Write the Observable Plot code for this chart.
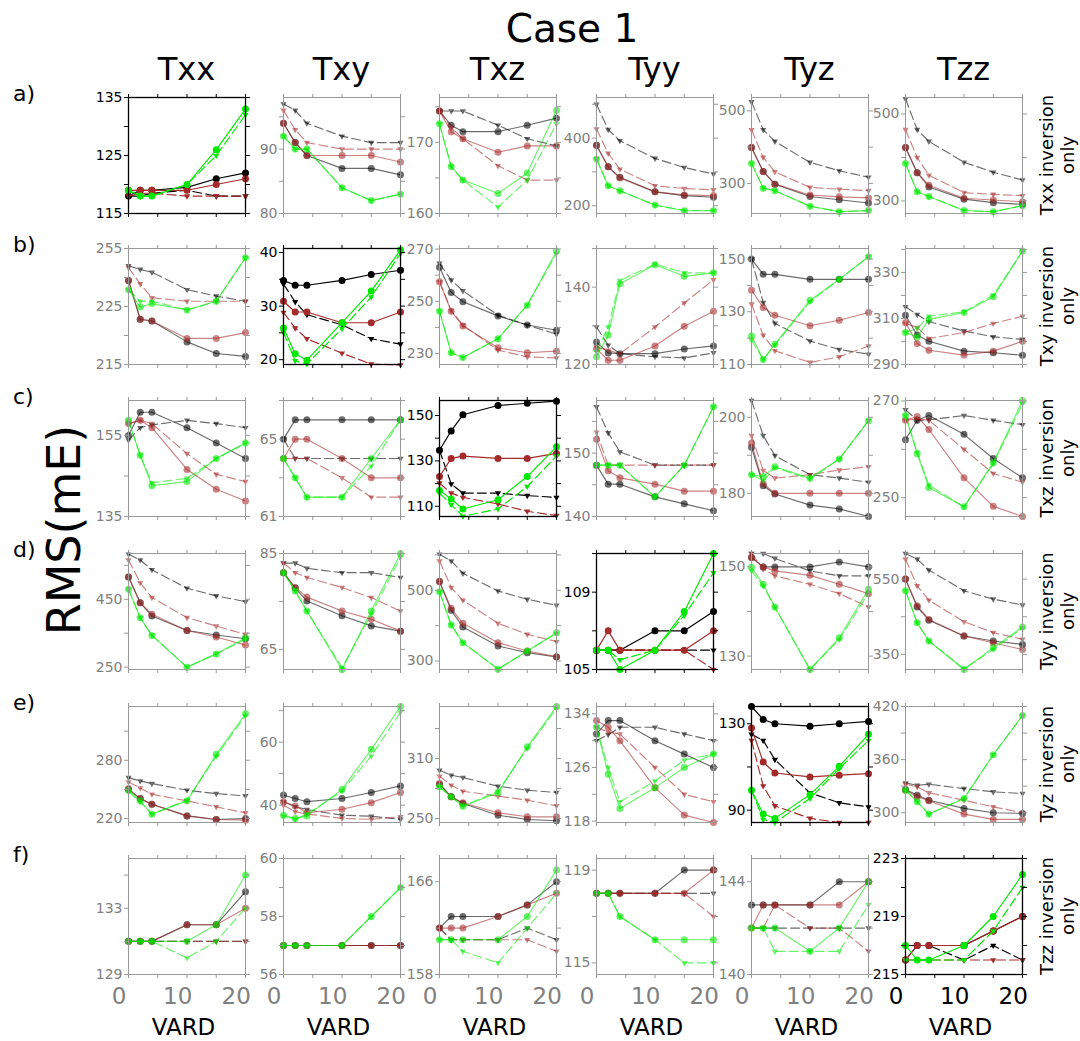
<!DOCTYPE html>
<html><head><meta charset="utf-8">
<script src="https://cdn.jsdelivr.net/npm/d3@7"></script>
<script src="https://cdn.jsdelivr.net/npm/@observablehq/plot@0.6"></script>
<style>
body{margin:0;background:#fff;font-family:"DejaVu Sans",sans-serif;}
#chart{position:relative;width:1080px;height:1041px;overflow:hidden;background:#fff;}
</style></head><body><div id="chart"></div>
<script>
// ---------------- data ----------------
const vard = [1, 3, 5, 11, 16, 21];
const columns = ["Txx", "Txy", "Txz", "Tyy", "Tyz", "Tzz"];
const rowKeys = ["a", "b", "c", "d", "e", "f"];
const rowLabels = ["a)", "b)", "c)", "d)", "e)", "f)"];
const rightLabels = ["Txx inversion", "Txy inversion", "Txz inversion", "Tyy inversion", "Tyz inversion", "Tzz inversion"];
const rightLabel2 = "only";
const titleText = "Case 1";
const yAxisTitle = "RMS(mE)";
const xAxisTitle = "VARD";
const xTickLabels = [0, 10, 20];
const xTickMarks = [1, 6, 11, 16, 21];
// series order in each panel: black solid, black dashed, red solid, red dashed, green solid, green dashed
const a_Txx = [[118,119,119,119.5,121,122],[118,118,118.5,119,118,118],[119,119,119,119,120,121],[118,118.5,118.5,118,118,118],[119,118,118,120,126,133],[119,118,118,120,125,132]];
const a_Txy = [[94,91,89,87,87,86],[97,96,94,92,91,91],[94,91,89,89,89,88],[96,93,91,90,90,90],[92,90,90,84,82,83],[92,90,90,84,82,83]];
const a_Txz = [[174.4,172.4,171.5,171.5,172.4,173.4],[174.4,174.4,174.4,172.4,170.5,169.5],[174.4,171.5,170.5,168.6,169.5,169.5],[174.4,172.1,170.5,166.7,164.7,164.7],[172.6,166.6,164.7,162.8,165.7,174.5],[172.6,166.6,164.7,160.9,164.7,172.6]];
const a_Tyy = [[379,315,284,241,230,225],[500,425,392,340,313,294],[379,315,282,241,232,230],[427,355,308,259,251,247],[338,259,244,202,185,185],[338,259,244,202,186,186]];
const a_Tyz = [[399,333,298,264,255,246],[525,448,416,358,335,317],[399,333,298,268,263,260],[448,372,332,289,284,280],[355,287,280,237,222,225],[355,287,280,237,222,225]];
const a_Tzz = [[423,365,332,304,296,292],[535,464,437,389,366,348],[423,365,336,306,302,298],[464,400,359,319,315,312],[386,321,310,278,275,289],[386,321,310,278,275,289]];

const b_Txx = [[229.5,222.8,222.5,218.9,216.9,216.4],[232,231.4,230.9,227.9,226.8,225.9],[229.5,222.8,222.5,219.5,219.5,220.5],[231.7,228.9,226.5,225.9,225.9,225.9],[227.9,224.9,225.5,224.4,225.9,233.4],[227.9,225.9,225.9,224.4,225.9,233.4]];
const b_Txy = [[34.8,33.9,33.9,34.8,35.9,36.7],[34.1,30.8,28.4,26.5,23.9,22.9],[30.9,28.9,28.9,26.9,26.9,28.9],[28.8,25.9,23.9,21.2,19.2,19],[25.9,21.1,19.9,26.9,32.8,40.5],[25.1,19.8,19.2,25.8,31.7,39.8]];
const b_Txz = [[263,253.4,249.8,244.4,240.9,238.9],[264.5,258.1,254,244.7,240.9,237.4],[257.5,246.2,240.5,232.2,230.3,230.9],[257.5,246.5,240.9,231.3,228.7,228.3],[246.2,230.3,228.5,235.7,248.5,269.2],[246.2,230.3,228.5,235.7,248.5,268.3]];
const b_Tyy = [[125.8,123,122.8,122.8,124,124.8],[129.7,125,122.8,122,121.7,123],[124.1,121.1,121.1,124.8,129.9,133.8],[124.5,123.7,122.8,129.7,135.9,141.9],[122,127.6,140.9,145.8,142.8,143.7],[123.3,129.7,141.7,146,143.7,143.7]];
const b_Tyz = [[150,144.2,144.2,142.3,142.3,142.3],[150,133.5,125.6,118.9,115.7,113.9],[138.2,131.6,128.7,124.7,126.8,129.7],[132.9,121.1,115.2,110.8,112.9,117],[120.8,111.9,117.7,134.4,142.3,150.9],[119.2,111.9,117.4,133.8,142.3,150.9]];
const b_Tzz = [[311.4,302.8,300.1,295.8,295.1,294],[315.1,311.7,308.6,304.6,302,300.9],[308.1,299.1,296.2,294.1,295.8,300.1],[307.8,306.1,301.3,303.9,307.8,311],[303.9,302,309.6,312.6,319.4,339.3],[303.9,305.7,311,312.9,320.1,339.3]];

const c_Txx = [[155,160.7,160.7,156.9,153.1,149.3],[153.8,156.9,157.6,158.7,157.9,156.9],[157.9,158.7,156.9,146.6,141.7,138.8],[157.9,158.7,157.9,150.5,145.4,143.6],[158.7,150.1,142.6,143.6,149.3,153.1],[158.7,150.1,143.3,144.4,149.3,153.1]];
const c_Txy = [[65,66,66,66,66,66],[65,64,64,64,64,64],[64,65,65,64,63,63],[64,64,64,63,62,62],[64,63,62,62,64,66],[64,63,62,62,63.6,66]];
const c_Txz = [[134.7,143.2,150.3,154.4,155.4,156.3],[134.7,119.8,115.8,115.8,114.7,113.9],[123.1,131.1,132.1,131.1,131.1,133.3],[120.2,115.8,113.9,111,107.8,105.9],[117,113.2,108.8,112.9,123.1,136.2],[115.8,110.7,105.6,108.8,118.7,132.1]];
const c_Tyy = [[148.1,145.1,145.1,143.1,142,140.9],[157.3,153.2,150.2,148.1,148.1,148.1],[152.2,147.2,146.1,145.1,144,144],[153.3,148.1,148.1,148.1,148.1,148.1],[148.1,148.1,148.1,143.1,148.1,157.3],[148.1,148.1,148.1,143.1,148.1,157.3]];
const c_Tyz = [[192.1,182,179.8,176.9,175.9,173.9],[204.4,195.2,189.9,184.9,184,182.9],[193.2,182.5,180,180,180,180],[195.2,186,184,184.9,186.1,187],[184.9,184.4,187,184,189,199.1],[184.9,183.3,186.8,183.7,189,199.1]];
const c_Tzz = [[262,266,267,263.1,258.1,254.1],[268.2,266,266.1,267,266,265.1],[266,266.8,264.1,254.1,248.2,246.1],[266,266.3,266,260,255,253.2],[267,259.1,252.1,248.1,257.2,270.1],[267,259.4,252.6,248.1,257,269.4]];

const d_Txx = [[516,440,400.7,358,344.6,333.7],[583,566,537,482.5,460,443],[516,440,405.7,358,338.7,315],[566,499,455,396,371,346.5],[479.6,395.8,343.6,250,289,336.7],[479.6,395.8,343.6,250,289,331.8]];
const d_Txy = [[81,77.8,75.1,72,69.9,68.8],[83,83,81.9,81,81,80],[81,77.9,75.9,73,71.3,68.8],[83,81,80,77.9,75.8,73],[81,77.2,73,60.8,73,85],[81,77.2,73,61.2,72.3,84.2]];
const d_Txz = [[524.5,443.4,396.2,342.5,323.6,311.3],[602,583,548,498,474.5,457.5],[524.5,449,406.6,351.9,328.3,312.3],[583,507.5,471.7,406.6,375.5,354.7],[496,401.9,351.9,277,328,380],[496,401.9,351.9,277,328,378]];
const d_Tyy = [[106,106,106,107,107,108],[106,106,106,106,106,106],[106,107,106,106,106,107],[106,106,106,106,106,105],[106,106,105,106,108,111],[106,106,105.5,106,107.8,110]];
const d_Tyz = [[152.1,150,150,150,151.1,150],[153,153,151.9,149.1,148,148],[152.1,150,149.1,148.1,146.1,144],[153,149.5,148,146.1,144,141],[149.9,146.1,141,127,134.1,145],[149.1,145.7,140.9,127,133.7,144.2]];
const d_Tzz = [[550,476,441,399,385.6,376.7],[618,603,574,519,497,481],[550,479,443,399,381,363],[603,532,494,437,408,390],[519,434,385.6,310,368,423],[519,434,385.6,312,363,420]];

const e_Txx = [[249.8,240.5,234.7,222.7,219,220],[262.1,258.7,256,249.1,245.7,243.3],[250.8,240.5,234.7,222.7,219,218.3],[257.7,251.5,245,238.2,232,225.8],[249.1,238.2,224.5,238.2,286.1,327.9],[247.4,237.2,224.5,238.9,284,326]];
const e_Txy = [[43.2,42.1,41.1,42.1,44,46.1],[41.1,39.5,38.6,36.8,36.5,35.5],[41.1,39.7,37.6,38.7,40.8,44],[40,37.9,37.2,35.8,35.5,36.3],[36.8,35.8,36.6,45,57.7,71.3],[36.5,35.5,37.2,44.4,55.6,69.5]];
const e_Txz = [[284.3,271.7,265,253.3,249,247.7],[298.3,293.3,291,282.3,278.3,276],[285,271.7,265.7,255.7,251.7,251.7],[292.3,283.3,277.3,272.3,268.3,262.7],[281.7,271.7,262.3,275.7,321.7,362],[281.7,271.7,262.3,277.3,320,360]];
const e_Tyy = [[131,133,133,130,128,126],[130,130.9,132,132,131,130],[133,132,130,123,118.9,117.8],[132,131.3,131,126,122,120.9],[132,125,119.9,123,126,128],[132,126,120.9,124,127.1,128]];
const e_Tyz = [[138,132,130,128.9,130,131.1],[125.1,122.3,113.4,98,93.4,91.5],[128,112.3,107.2,105.4,106.2,106.9],[122.3,101.2,92,86.2,84.3,84.3],[99.2,88.2,86.2,97.2,110.3,125.1],[99.2,85.7,84.3,95.4,109.2,122.3]];
const e_Tzz = [[326.2,319.9,314.2,304.9,300,299.3],[333.7,331,332.2,327.3,323.6,321.7],[325.5,318,313.5,298.5,292.5,292.5],[332.2,329.2,322.5,314.2,306.7,300],[325.5,312.4,298.5,316.1,365.5,409.7],[325.5,312.4,298.5,316.1,365.5,409.7]];

const f_Txx = [[131,131,131,132,132,134],[131,131,131,131,131,131],[131,131,131,132,132,133],[131,131,131,131,131,131],[131,131,131,131,132,135],[131,131,131,130,131,133]];
const f_Txy = [[57,57,57,57,57,57],[57,57,57,57,57,57],[57,57,57,57,57,57],[57,57,57,57,57,57],[57,57,57,57,58,59],[57,57,57,57,58,59]];
const f_Txz = [[162,163,163,163,164,166],[162,161,161,161,162,161],[162,162,162,163,164,165],[162,161,161,161,161,160],[161,161,161,161,163,167],[161,161,160,159,162,165]];
const f_Tyy = [[118,118,118,118,119,119],[118,118,118,118,118,118],[118,118,118,118,118,119],[118,118,118,118,118,117],[118,118,117,116,116,116],[118,118,117,116,115,115]];
const f_Tyz = [[143,143,143,143,144,144],[142,142,142,142,142,142],[142,143,143,143,143,144],[142,142,143,142,142,141],[142,142,142,141,142,144],[142,142,141,141,141,143]];
const f_Tzz = [[216,217,217,217,218,219],[217,217,217,216,217,216],[216,217,217,217,218,219],[216,216,216,216,216,216],[217,216,216,217,219,221.9],[216,216,216,216,218,221]];

// y domains, tick marks and labelled ticks per row (columns Txx..Tzz)
const yDomA = [[115,135],[80,98],[160,176.3],[177,520],[217,537],[271,538]];
const yDomB = [[215,235],[19.1,40.75],[225.8,270.2],[120,150],[110,154],[290,340.4]];
const yDomC = [[135,163.6],[61,67],[105.5,156.6],[140,158.3],[173.9,204.4],[246.1,270.1]];
const yDomD = [[243,585],[60.8,85],[276,604],[105,111],[127,153],[310,618]];
const yDomE = [[215.9,335.4],[34.5,71.3],[246,362],[117.8,135.1],[84.3,138],[289,420]];
const yDomF = [[129,136],[56,60],[158,168],[114.5,119.5],[140,145],[215,223]];

const yTicksA = [[115,120,125,130,135],[80,85,90,95],[160,165,170,175],[200,300,400,500],[300,400,500],[300,400,500]];
const yTicksB = [[215,220,225,230,235],[20,25,30,35,40],[230,240,250,260,270],[120,130,140,150],[110,120,130,140,150],[290,300,310,320,330,340]];
const yTicksC = [[135,145,155],[61,63,65,67],[110,120,130,140,150],[140,145,150,155],[180,190,200],[250,260,270]];
const yTicksD = [[250,350,450,550],[65,75,85],[300,400,500,600],[105,107,109,111],[130,140,150],[350,450,550]];
const yTicksE = [[220,250,280,310],[40,50,60,70],[250,280,310,340],[118,122,126,130,134],[90,110,130],[300,330,360,390,420]];
const yTicksF = [[129,131,133,135],[56,57,58,59,60],[158,162,166],[115,117,119],[140,142,144],[215,217,219,221,223]];

const yLabA = [[115,125,135],[80,90],[160,170],[200,400],[300,500],[300,500]];
const yLabB = [[215,225,235],[20,30,40],[230,250,270],[120,140],[110,130,150],[290,310,330]];
const yLabC = [[135,155],[61,65],[110,130,150],[140,150],[180,200],[250,270]];
const yLabD = [[250,450],[65,85],[300,500],[105,109],[130,150],[350,550]];
const yLabE = [[220,280],[40,60],[250,310],[118,126,134],[90,130],[300,360,420]];
const yLabF = [[129,133],[56,58,60],[158,166],[115,119],[140,144],[215,219,223]];
// tick text as printed in the figure where it differs from the value
const b_Txx_topTickText = "255";

// ---------------- assembly ----------------
const panelData = {a_Txx,a_Txy,a_Txz,a_Tyy,a_Tyz,a_Tzz,b_Txx,b_Txy,b_Txz,b_Tyy,b_Tyz,b_Tzz,c_Txx,c_Txy,c_Txz,c_Tyy,c_Tyz,c_Tzz,d_Txx,d_Txy,d_Txz,d_Tyy,d_Tyz,d_Tzz,e_Txx,e_Txy,e_Txz,e_Tyy,e_Tyz,e_Tzz,f_Txx,f_Txy,f_Txz,f_Tyy,f_Tyz,f_Tzz};
const yDoms = [yDomA,yDomB,yDomC,yDomD,yDomE,yDomF];
const yTicks = [yTicksA,yTicksB,yTicksC,yTicksD,yTicksE,yTicksF];
const yLabs = [yLabA,yLabB,yLabC,yLabD,yLabE,yLabF];
const tickOverrides = {b_Txx: new Map([[235, b_Txx_topTickText]])};

const triangleDown = {
  draw(ctx, size) {
    const a = Math.sqrt(size * 4 / Math.sqrt(3));
    const h = a * Math.sqrt(3) / 2;
    ctx.moveTo(0, 2 * h / 3);
    ctx.lineTo(-a / 2, -h / 3);
    ctx.lineTo(a / 2, -h / 3);
    ctx.closePath();
  }
};
const BLACK = "#000000", BROWN = "#a52a2a", GREEN = "#00ea00";
const seriesStyle = [
  {color: BLACK, dash: null, symbol: "circle", r: 3.5},
  {color: BLACK, dash: "9,4", symbol: triangleDown, r: 2.3},
  {color: BROWN, dash: null, symbol: "circle", r: 3.5},
  {color: BROWN, dash: "9,4", symbol: triangleDown, r: 2.3},
  {color: GREEN, dash: null, symbol: "circle", r: 3.5},
  {color: GREEN, dash: "9,4", symbol: triangleDown, r: 2.3}
];
const drawOrder = [1, 0, 3, 2, 5, 4];

const colX = [128, 283, 439, 596, 751, 905];
const rowY = [97, 248, 400, 553, 706, 858];
const PW = 117, PH = 116;
const ML = 44, MR = 12, MT = 8;
const FONT = "DejaVu Sans, sans-serif";

const chart = document.getElementById("chart");

function makePanel(ri, ci) {
  const key = rowKeys[ri] + "_" + columns[ci];
  const vals = panelData[key];
  const diag = ri === ci;
  const op = diag ? 1 : 0.58;
  const ink = diag ? "#000" : "#808080";
  const frameInk = diag ? "#000" : "#999999";
  const isBottom = ri === 5;
  const MB = isBottom ? 45 : 8;
  const labSet = new Set(yLabs[ri][ci]);
  const ov = tickOverrides[key];
  const fmt = d => labSet.has(d) ? (ov && ov.has(d) ? ov.get(d) : String(d)) : "";
  const marks = [];
  for (const si of drawOrder) {
    const st = seriesStyle[si];
    const data = vard.map((x, i) => ({x, y: vals[si][i]}));
    const lineOpts = {x: "x", y: "y", stroke: st.color, strokeWidth: 1.15, strokeOpacity: op};
    if (st.dash) lineOpts.strokeDasharray = st.dash;
    marks.push(Plot.line(data, lineOpts));
    marks.push(Plot.dot(data, {x: "x", y: "y", fill: st.color, fillOpacity: op, stroke: "none", r: st.r, symbol: st.symbol}));
  }
  marks.push(Plot.frame({stroke: frameInk, strokeWidth: diag ? 1.3 : 1}));
  marks.push(Plot.axisY({anchor: "left", ticks: yTicks[ri][ci], tickSize: 4, tickPadding: 2, tickFormat: fmt, fontSize: 14, stroke: frameInk, fill: ink, label: null}));
  marks.push(Plot.axisY({anchor: "right", ticks: yTicks[ri][ci], tickSize: 4, fill: "none", stroke: frameInk, label: null}));
  marks.push(Plot.axisX({anchor: "top", ticks: xTickMarks, tickSize: 4, fill: "none", stroke: frameInk, label: null}));
  marks.push(Plot.axisX({anchor: "bottom", ticks: xTickMarks, tickSize: 4, fill: "none", stroke: frameInk, label: null}));
  if (isBottom) {
    marks.push(Plot.axisX({anchor: "bottom", ticks: xTickLabels, tickSize: 0, tickPadding: 13, fontSize: 23, fill: ink, stroke: "none", dx: -3.5, label: null, tickFormat: d => String(d)}));
  }
  const svg = Plot.plot({
    width: PW + ML + MR,
    height: PH + MT + MB,
    marginLeft: ML, marginRight: MR, marginTop: MT, marginBottom: MB,
    x: {domain: [1, 21], axis: null},
    y: {domain: yDoms[ri][ci], axis: null},
    style: {background: "transparent", overflow: "visible", fontFamily: FONT, maxWidth: "none"},
    marks
  });
  svg.style.position = "absolute";
  svg.style.left = (colX[ci] - ML) + "px";
  svg.style.top = (rowY[ri] - MT) + "px";
  chart.appendChild(svg);
}

for (let ri = 0; ri < 6; ri++) for (let ci = 0; ci < 6; ci++) makePanel(ri, ci);

// ---------------- texts ----------------
const ov = d3.select(chart).append("svg")
  .attr("width", 1080).attr("height", 1041)
  .style("position", "absolute").style("left", "0px").style("top", "0px")
  .style("pointer-events", "none")
  .attr("font-family", FONT);

ov.append("text").attr("x", 572).attr("y", 42).attr("text-anchor", "middle").attr("font-size", 39).attr("fill", "#000").text(titleText);
columns.forEach((c, i) => {
  ov.append("text").attr("x", colX[i] + PW / 2).attr("y", 80).attr("text-anchor", "middle").attr("font-size", 32).attr("fill", "#000").text(c);
  ov.append("text").attr("x", colX[i] + PW / 2 - 3).attr("y", 1035).attr("text-anchor", "middle").attr("font-size", 23).attr("fill", "#000").text(xAxisTitle);
});
rowLabels.forEach((t, i) => {
  ov.append("text").attr("x", 13).attr("y", rowY[i] + 4).attr("font-size", 22).attr("fill", "#000").text(t);
  const g = ov.append("g").attr("transform", `translate(1053,${rowY[i] + PH / 2}) rotate(-90)`);
  g.append("text").attr("x", 0).attr("y", 0).attr("text-anchor", "middle").attr("font-size", 18).attr("fill", "#000").text(rightLabels[i]);
  g.append("text").attr("x", 0).attr("y", 21).attr("text-anchor", "middle").attr("font-size", 18).attr("fill", "#000").text(rightLabel2);
});
ov.append("text").attr("transform", "translate(80,530) rotate(-90)").attr("text-anchor", "middle").attr("font-size", 46).attr("fill", "#000").text(yAxisTitle);
</script>
</body></html>
